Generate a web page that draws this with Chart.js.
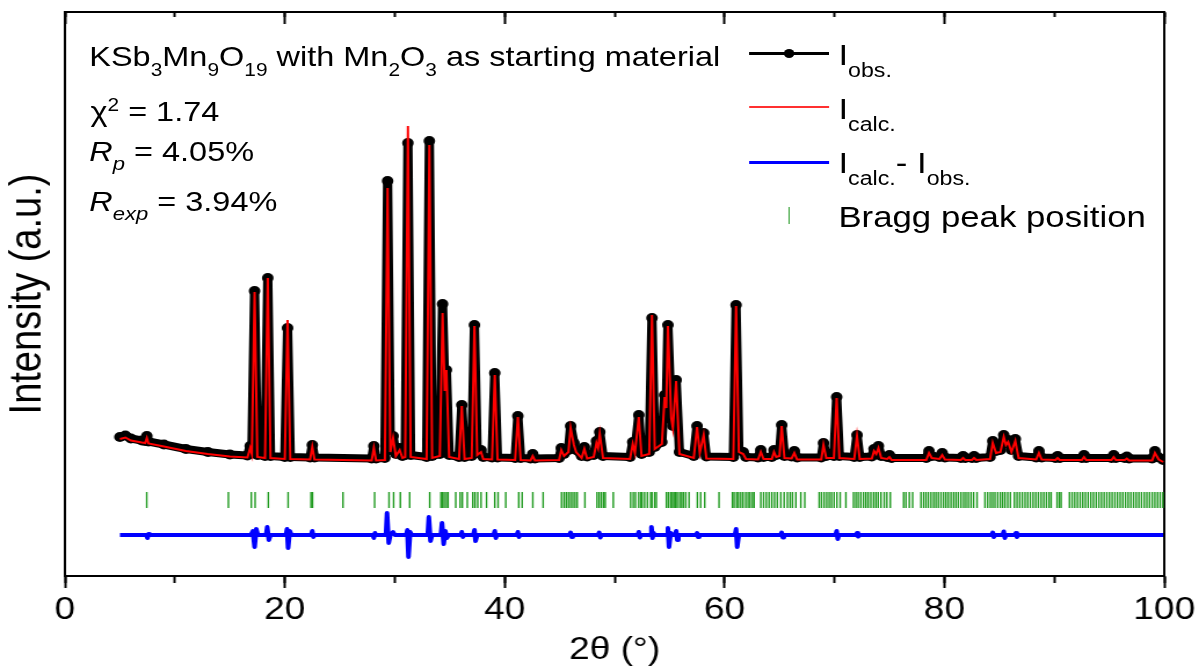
<!DOCTYPE html>
<html>
<head>
<meta charset="utf-8">
<title>KSb3Mn9O19 Rietveld refinement</title>
<script src="https://cdn.jsdelivr.net/npm/chart.js"></script>
<style>
  html, body { margin: 0; padding: 0; background: #fff; overflow: hidden; }
  /* the original figure is stretched sideways, so the whole stage is too */
  #stage { position: absolute; left: 0; top: 0; width: 1034px; height: 669px;
           transform: scaleX(1.1596); transform-origin: 0 0;
           font-family: "Liberation Sans", Arial, sans-serif; color: #000; }
  #stage canvas { position: absolute; left: 0; top: 0; }
  .txt { position: absolute; white-space: nowrap; line-height: 1; }
  .txt span { position: relative; }
  .t1 .sub { font-size: 18px; top: 10px; }
  .st .sup { font-size: 18px; top: -10px; }
  .st .sub { font-size: 19px; top: 9px; }
  .lg .sub { font-size: 20px; top: 12px; }
  .mark { position: absolute; }
</style>
</head>
<body>
<div id="stage">
  <canvas id="xrd" width="1034" height="669"></canvas>

  <div class="txt t1" style="left:77px;top:43px;font-size:28px">KSb<span class="sub">3</span>Mn<span class="sub">9</span>O<span class="sub">19</span> with Mn<span class="sub">2</span>O<span class="sub">3</span> as starting material</div>
  <div class="txt st" style="left:78px;top:98px;font-size:28px">χ<span class="sup">2</span> = 1.74</div>
  <div class="txt st" style="left:77px;top:138px;font-size:28px"><i>R</i><span class="sub"><i>p</i></span> = 4.05%</div>
  <div class="txt st" style="left:77px;top:188px;font-size:28px"><i>R</i><span class="sub"><i>exp</i></span> = 3.94%</div>

  <div class="mark" style="left:646px;top:51.5px;width:69px;height:3px;background:#000"></div>
  <div class="mark" style="left:676px;top:48.5px;width:9px;height:9px;border-radius:50%;background:#000"></div>
  <div class="mark" style="left:646px;top:106px;width:69px;height:2px;background:#ff3030"></div>
  <div class="mark" style="left:646px;top:160.5px;width:69px;height:3px;background:#0000ff"></div>
  <div class="mark" style="left:680px;top:207px;width:1.3px;height:17px;background:#33a033"></div>

  <div class="txt lg" style="left:723px;top:40px;font-size:30px">I<span class="sub">obs.</span></div>
  <div class="txt lg" style="left:723px;top:94px;font-size:30px">I<span class="sub">calc.</span></div>
  <div class="txt lg" style="left:723px;top:148px;font-size:30px">I<span class="sub">calc.</span>- I<span class="sub">obs.</span></div>
  <div class="txt lg" style="left:723px;top:202px;font-size:30px">Bragg peak position</div>
</div>

<script>
const twoTheta = [
  5.0, 5.5, 6.0, 7.0, 7.3, 7.45, 7.6, 9.0, 11.0, 13.0, 15.0, 16.6, 16.85, 17.0, 17.25, 17.5,
  18.2, 18.45, 18.7, 20.0, 20.25, 20.5, 22.3, 22.5, 22.7, 27.9, 28.1, 28.3,
  29.1, 29.35, 29.6, 29.85, 30.1, 30.45, 30.7, 30.95, 31.2, 31.45, 32.9, 33.15, 33.4,
  34.1, 34.35, 34.55, 34.7, 34.95, 35.85, 36.1, 36.35, 37.0, 37.25, 37.5, 37.85, 38.05,
  38.85, 39.1, 39.35, 40.95, 41.2, 41.45, 42.35, 42.55, 42.75,
  44.95, 45.15, 45.4, 45.8, 46.0, 46.3, 46.5, 47.0, 47.25, 47.5, 48.1, 48.35, 48.5, 48.65, 48.95,
  51.4, 51.65, 51.85, 52.2, 52.45, 53.15, 53.4, 53.65, 54.3, 54.55, 54.7, 54.85, 55.15, 55.3,
  55.6, 55.9, 57.2, 57.5, 57.75, 58.1, 58.35, 60.8, 61.05, 61.3, 61.7, 61.95,
  63.05, 63.3, 63.55, 64.3, 64.5, 64.7, 65.0, 65.2, 65.45, 66.1, 66.35, 66.6,
  68.8, 69.0, 69.25, 69.95, 70.2, 70.45, 71.8, 72.05, 72.3, 73.4, 73.6, 73.8, 74.0, 74.25,
  74.8, 75.0, 75.2, 78.35, 78.6, 78.85, 79.55, 79.8, 80.05, 81.5, 81.7, 81.9, 82.5, 82.7, 82.9,
  84.15, 84.4, 84.7, 85.1, 85.4, 85.6, 85.8, 86.1, 86.45, 86.75, 88.35, 88.6, 88.85,
  90.1, 90.3, 90.5, 92.5, 92.7, 92.9, 95.2, 95.4, 95.6, 96.4, 96.6, 96.8, 98.9, 99.15, 99.5, 99.9
];
const iObs = [
  1390, 1405, 1375, 1355, 1350, 1400, 1345, 1315, 1270, 1240, 1215, 1205, 1300, 1240, 2850, 1210,
  1200, 2980, 1200, 1190, 2480, 1190, 1185, 1310, 1185, 1175, 1300, 1175,
  1180, 3950, 1260, 1400, 1220, 1280, 1200, 1210, 4330, 1210, 1190, 4350, 1200,
  1220, 2720, 1900, 2060, 1210, 1190, 1710, 1190, 1200, 2510, 1230, 1260, 1190,
  1185, 2030, 1185, 1180, 1600, 1180, 1175, 1220, 1175,
  1180, 1280, 1220, 1260, 1500, 1330, 1260, 1200, 1290, 1195, 1210, 1350, 1300, 1440, 1200,
  1190, 1340, 1250, 1610, 1220, 1240, 2580, 1290, 1340, 1810, 1700, 2510, 1600, 1500,
  1960, 1240, 1200, 1500, 1250, 1430, 1195, 1190, 2710, 1260, 1240, 1190,
  1185, 1260, 1190, 1190, 1260, 1210, 1220, 1510, 1200, 1195, 1250, 1185,
  1185, 1330, 1200, 1200, 1790, 1200, 1190, 1410, 1190, 1195, 1270, 1240, 1300, 1200,
  1190, 1210, 1180, 1180, 1250, 1200, 1190, 1230, 1185, 1180, 1200, 1180, 1180, 1200, 1180,
  1190, 1350, 1250, 1260, 1410, 1330, 1360, 1260, 1370, 1200, 1185, 1250, 1185,
  1180, 1200, 1180, 1180, 1210, 1180, 1180, 1210, 1180, 1180, 1195, 1175, 1175, 1250, 1185, 1160
];
const iCalc = [
  1370, 1385, 1355, 1335, 1330, 1380, 1325, 1295, 1250, 1220, 1195, 1185, 1280, 1220, 2840, 1190,
  1180, 2980, 1180, 1170, 2560, 1170, 1165, 1290, 1165, 1155, 1280, 1155,
  1160, 3880, 1240, 1380, 1200, 1260, 1180, 1190, 4500, 1190, 1170, 4310, 1180,
  1200, 2630, 1850, 2060, 1190, 1170, 1700, 1170, 1180, 2500, 1210, 1240, 1170,
  1165, 2010, 1165, 1160, 1590, 1160, 1155, 1200, 1155,
  1160, 1260, 1200, 1240, 1480, 1310, 1240, 1180, 1270, 1175, 1190, 1330, 1280, 1420, 1180,
  1170, 1320, 1230, 1590, 1200, 1220, 2610, 1270, 1320, 1790, 1680, 2500, 1580, 1480,
  1950, 1220, 1180, 1490, 1230, 1410, 1175, 1170, 2700, 1240, 1220, 1170,
  1165, 1240, 1170, 1170, 1240, 1190, 1200, 1500, 1180, 1175, 1230, 1165,
  1165, 1310, 1180, 1180, 1780, 1180, 1170, 1400, 1170, 1175, 1250, 1220, 1280, 1180,
  1170, 1190, 1160, 1160, 1230, 1180, 1170, 1210, 1165, 1160, 1180, 1160, 1160, 1180, 1160,
  1170, 1330, 1230, 1240, 1390, 1310, 1340, 1240, 1350, 1180, 1165, 1230, 1165,
  1160, 1180, 1160, 1160, 1190, 1160, 1160, 1190, 1160, 1160, 1175, 1155, 1155, 1230, 1165, 1140
];

// difference curve (Icalc - Iobs), around zero
const diffTheta = [
  5.0, 7.4, 7.5, 7.6, 7.7, 16.9, 17.1, 17.25, 17.4, 17.55, 18.3, 18.4, 18.55, 18.7,
  20.1, 20.2, 20.3, 20.45, 20.6, 22.4, 22.5, 22.6, 22.7, 28.0, 28.1, 28.2, 28.3,
  29.2, 29.3, 29.45, 29.6, 29.85, 30.0, 31.05, 31.15, 31.25, 31.4, 31.55,
  33.0, 33.1, 33.25, 33.4, 34.2, 34.3, 34.45, 34.6, 34.75, 34.9,
  36.0, 36.1, 36.2, 36.3, 37.15, 37.25, 37.35, 37.5, 39.0, 39.1, 39.2, 39.3,
  41.1, 41.2, 41.3, 41.4, 45.9, 46.0, 46.1, 46.2, 48.5, 48.6, 48.7, 48.8,
  52.1, 52.2, 52.3, 52.4, 53.3, 53.35, 53.45, 53.55, 53.65, 54.75, 54.85, 54.95, 55.1, 55.25,
  55.5, 55.6, 55.7, 55.8, 57.4, 57.5, 57.6, 57.7, 60.95, 61.05, 61.15, 61.3,
  65.1, 65.2, 65.3, 65.4, 70.1, 70.2, 70.3, 70.4, 72.0, 72.05, 72.15, 72.3,
  84.3, 84.4, 84.5, 84.6, 85.3, 85.4, 85.5, 85.6, 86.4, 86.5, 86.6, 86.7, 99.9
];
const iDiff = [
  0, 0, -30, 10, 0, 0, 40, -120, 60, 0, 0, 80, -50, 0,
  0, 60, -130, 40, 0, 0, 40, -20, 0, 0, -30, 20, 0,
  0, 220, -80, 0, 30, 0, 0, 50, -220, 30, 0,
  0, 180, -60, 0, 0, 120, -90, 40, -30, 0,
  0, 30, -20, 0, 0, 50, -60, 0, 0, 40, -30, 0,
  0, 30, -20, 0, 0, 25, -20, 0, 0, 25, -25, 0,
  0, 30, -25, 0, 0, 80, -30, 20, 0, 0, 70, -120, 20, 0,
  0, 40, -50, 0, 0, 20, -20, 0, 0, 60, -120, 0,
  0, 25, -25, 0, 0, 40, -40, 0, 0, 20, -15, 0,
  0, 25, -20, 0, 0, 35, -30, 0, 0, 20, -20, 0, 0
];

// Bragg reflection positions (2theta)
const braggPos = [
  7.44, 14.87, 16.95, 17.3, 18.5, 20.3, 22.38, 22.52, 25.29, 28.17, 29.48, 29.9, 30.51, 31.36,
  33.18, 34.2, 34.35, 34.5, 34.7, 34.85, 35.55, 35.95, 36.15, 36.6, 37.1, 37.3, 37.55, 37.85,
  38.35, 39.1, 39.4, 40.1, 41.28, 41.59, 42.56, 43.5, 45.17, 45.4, 45.6, 45.8, 46.0, 46.2,
  46.4, 46.6, 47.3, 48.4, 48.6, 48.8, 49.0, 49.15, 49.88, 51.46, 51.7, 51.9, 52.2, 52.4,
  52.5, 52.73, 52.98, 53.28, 53.4, 53.64, 53.8, 54.71, 54.89, 55.1, 55.26, 55.4, 55.56, 55.7,
  55.92, 56.1, 56.26, 56.47, 56.77, 57.53, 57.83, 58.2, 59.5, 60.72, 60.87, 61.1, 61.27,
  61.48, 61.68, 61.93, 62.14, 62.32, 62.54, 62.69, 63.3, 63.55, 63.8, 64.05, 64.3, 64.55,
  64.8, 65.12, 65.42, 65.72, 65.97, 66.18, 66.49, 66.94, 67.3, 68.61, 68.82, 69.06, 69.3,
  69.52, 69.73, 69.97, 70.22, 70.52, 71.04, 71.73, 71.95, 72.16, 72.4, 72.65, 72.86, 73.07,
  73.31, 73.56, 73.77, 73.98, 74.23, 74.53, 74.77, 75.08, 76.29, 76.5, 76.81, 77.11, 77.87,
  78.11, 78.32, 78.54, 78.78, 79.02, 79.23, 79.45, 79.69, 79.93, 80.14, 80.36, 80.6, 80.84,
  81.05, 81.27, 81.51, 81.75, 81.96, 82.18, 82.42, 82.66, 82.97, 83.69, 83.94, 84.18, 84.39,
  84.6, 84.85, 85.09, 85.3, 85.51, 85.76, 86.0, 86.37, 86.61, 86.85, 87.09, 87.34, 87.58,
  87.82, 88.07, 88.31, 88.55, 88.8, 89.04, 89.28, 89.52, 89.71, 90.25, 90.46, 90.62, 91.38,
  91.62, 91.86, 92.1, 92.35, 92.59, 92.83, 93.08, 93.32, 93.56, 93.81, 94.05, 94.29, 94.53,
  94.78, 95.02, 95.26, 95.51, 95.75, 95.99, 96.23, 96.48, 96.72, 96.96, 97.21, 97.45, 97.69,
  97.93, 98.18, 98.42, 98.66, 98.91, 99.15, 99.39, 99.63, 99.88
];

const xTicks = [0, 20, 40, 60, 80, 100];

// layout of the stacked traces on the intensity axis
const Y_MAX = 5640;
const DIFF_OFFSET = 410;
const BRAGG_LEVEL = 760;
const FONT = '"Liberation Sans", Arial, sans-serif';

const obsPts = twoTheta.map((t, i) => ({ x: t, y: iObs[i] }));
const calcPts = twoTheta.map((t, i) => ({ x: t, y: iCalc[i] }));
const diffPts = diffTheta.map((t, i) => ({ x: t, y: iDiff[i] + DIFF_OFFSET }));
const braggPts = braggPos.map(t => ({ x: t, y: BRAGG_LEVEL }));

function xAxis(pos, step, len, border) {
  return {
    type: 'linear', position: pos, min: 0, max: 100,
    ticks: { display: false, stepSize: step },
    grid: { drawOnChartArea: false, tickLength: len, tickWidth: 2, tickColor: '#000' },
    border: { display: border, color: '#000', width: 2 }
  };
}

new Chart(document.getElementById('xrd'), {
  type: 'scatter',
  data: {
    datasets: [
      { label: 'Icalc', data: calcPts, showLine: true, borderColor: '#ff0000', borderWidth: 2,
        pointRadius: 0, order: 0 },
      { label: 'Iobs', data: obsPts, showLine: true, borderColor: '#000', borderWidth: 8,
        borderJoinStyle: 'round', borderCapStyle: 'round',
        pointRadius: 5, pointBackgroundColor: '#000', pointBorderWidth: 0, order: 1 },
      { label: 'Icalc - Iobs', data: diffPts, showLine: true, borderColor: '#0000ff', borderWidth: 4,
        borderJoinStyle: 'round', pointRadius: 0, order: 2 },
      { label: 'Bragg', data: braggPts, showLine: false, pointStyle: 'line', rotation: 90,
        pointRadius: 8, pointBorderColor: '#1f9a1f', pointBorderWidth: 1.4, order: 3 }
    ]
  },
  options: {
    responsive: false,
    animation: false,
    events: [],
    layout: { padding: { top: 12, right: 30, left: 0, bottom: 0 } },
    plugins: { legend: { display: false }, tooltip: { enabled: false } },
    scales: {
      x: {
        type: 'linear', position: 'bottom', min: 0, max: 100,
        afterBuildTicks: s => { s.ticks = xTicks.map(v => ({ value: v })); },
        ticks: { color: '#000', font: { family: FONT, size: 32 }, padding: 3, maxRotation: 0 },
        grid: { drawOnChartArea: false, tickLength: 12, tickWidth: 2, tickColor: '#000' },
        border: { color: '#000', width: 2 },
        title: { display: true, text: '2θ (°)', color: '#000', font: { family: FONT, size: 32 },
                 padding: { top: 5, bottom: 0 } },
        afterFit: s => { s.height = 93; }
      },
      xMinor: xAxis({ y: 0 }, 10, 7, false),
      xTop: xAxis({ y: Y_MAX }, 20, 11, true),
      xTopMinor: xAxis({ y: Y_MAX }, 10, 5, false),
      y: {
        type: 'linear', position: 'left', min: 0, max: Y_MAX,
        ticks: { display: false },
        grid: { display: false },
        border: { color: '#000', width: 2 },
        title: { display: true, text: 'Intensity (a.u.)', color: '#000', font: { family: FONT, size: 38 },
                 padding: { top: 2, bottom: 0 } },
        afterFit: s => { s.width = 56; }
      },
      yRight: {
        type: 'linear', position: { x: 100 }, min: 0, max: Y_MAX,
        ticks: { display: false },
        grid: { display: false },
        border: { color: '#000', width: 2 }
      }
    }
  }
});
</script>
</body>
</html>
